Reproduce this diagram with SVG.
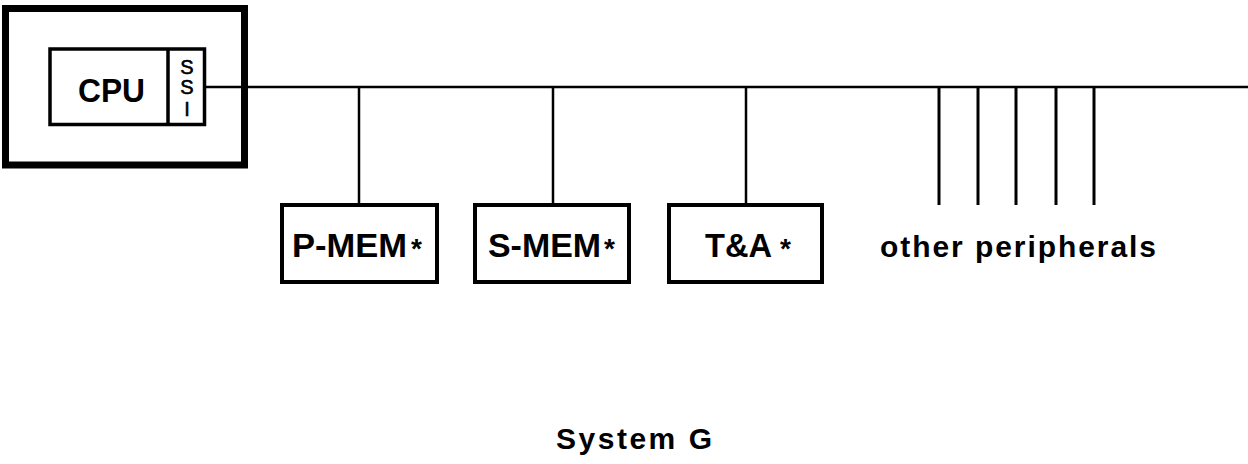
<svg xmlns="http://www.w3.org/2000/svg" width="1248" height="464" viewBox="0 0 1248 464">
<style>
  .box { fill: #fff; stroke: #000; stroke-width: 4; }
  .lbl { font-family: "Liberation Sans", Arial, sans-serif; font-weight: bold; fill: #000; }
  .ssi { font-family: "Liberation Sans", Arial, sans-serif; font-size: 20px; fill: #000; stroke: #000; stroke-width: 0.6; text-anchor: middle; }
  .star { font-family: "Liberation Sans", Arial, sans-serif; font-weight: bold; font-size: 28px; fill: #000; }
  .conn line { stroke: #000; stroke-width: 2.5; }
  .conn line.drop { stroke-width: 3; }
</style>
<rect width="1248" height="464" fill="#fff"/>
<g id="connectors" class="conn">
  <line x1="205" y1="87" x2="1248" y2="87"/>
  <line x1="359" y1="87" x2="359" y2="205"/>
  <line x1="553" y1="87" x2="553" y2="205"/>
  <line x1="746" y1="87" x2="746" y2="205"/>
  <line class="drop" x1="939" y1="87" x2="939" y2="205"/>
  <line class="drop" x1="978" y1="87" x2="978" y2="205"/>
  <line class="drop" x1="1016" y1="87" x2="1016" y2="205"/>
  <line class="drop" x1="1056" y1="87" x2="1056" y2="205"/>
  <line class="drop" x1="1094" y1="87" x2="1094" y2="205"/>
</g>
<g id="system-frame">
  <rect x="5.5" y="8.5" width="239" height="156.5" fill="none" stroke="#000" stroke-width="7"/>
</g>
<g id="cpu">
  <rect x="50" y="49" width="154.5" height="75.5" fill="#fff" stroke="#000" stroke-width="3.5"/>
  <line x1="168" y1="49" x2="168" y2="124.5" stroke="#000" stroke-width="3.5"/>
  <text class="lbl" x="78" y="102" font-size="34" textLength="67" lengthAdjust="spacingAndGlyphs">CPU</text>
</g>
<g id="ssi">
  <text class="ssi" x="187" y="74">S</text>
  <text class="ssi" x="187" y="94">S</text>
  <text class="ssi" x="187" y="116">I</text>
</g>
<g id="p-mem">
  <rect class="box" x="282" y="205" width="155" height="77"/>
  <text class="lbl" x="292" y="257" font-size="33" textLength="115" lengthAdjust="spacingAndGlyphs">P-MEM</text>
  <text class="star" x="411" y="258">*</text>
</g>
<g id="s-mem">
  <rect class="box" x="475" y="205" width="154" height="77"/>
  <text class="lbl" x="488" y="257" font-size="33" textLength="113" lengthAdjust="spacingAndGlyphs">S-MEM</text>
  <text class="star" x="604" y="258">*</text>
</g>
<g id="t-and-a">
  <rect class="box" x="669" y="205" width="153" height="77"/>
  <text class="lbl" x="705" y="257" font-size="33" textLength="67" lengthAdjust="spacingAndGlyphs">T&amp;A</text>
  <text class="star" x="780" y="258">*</text>
</g>
<g id="other-peripherals">
  <text class="lbl" x="880" y="257" font-size="30" textLength="276" lengthAdjust="spacing">other peripherals</text>
</g>
<g id="system-g">
  <text class="lbl" x="556" y="449" font-size="30" textLength="156" lengthAdjust="spacing">System G</text>
</g>
</svg>
